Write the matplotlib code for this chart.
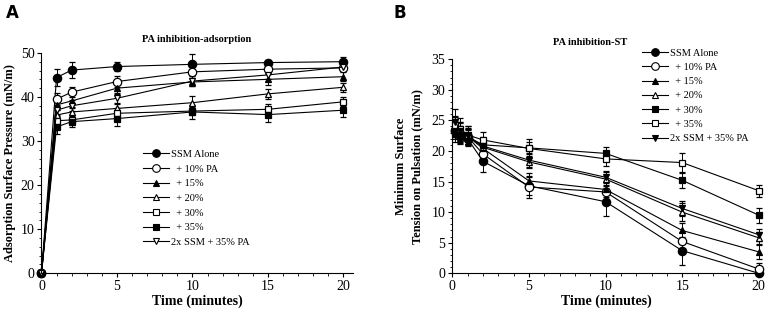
import numpy as np
import matplotlib.pyplot as plt
from matplotlib.lines import Line2D
from matplotlib.ticker import MultipleLocator

plt.rcParams['font.family'] = ['Liberation Serif', 'DejaVu Serif']

# Panel A: adsorption surface pressure
time_a = [0, 1, 2, 5, 10, 15, 20]
labels_a = ["SSM Alone", "  + 10% PA", "  + 15%", "  + 20%", "  + 30%", "  + 35%",
            "2x SSM + 35% PA"]
ssm_a = [0, 44.4, 46.1, 46.9, 47.4, 47.8, 48.0]
pa10_a = [0, 39.5, 41.1, 43.5, 45.7, 46.3, 46.6]
pa15_a = [0, 38.2, 39.1, 42.0, 43.4, 44.0, 44.6]
pa20_a = [0, 35.9, 36.6, 37.4, 38.7, 40.7, 42.2]
pa30_a = [0, 34.6, 34.8, 36.3, 36.8, 37.2, 38.9]
pa35_a = [0, 33.2, 34.4, 35.1, 36.6, 36.0, 37.0]
dbl_a = [0, 37.0, 38.0, 39.7, 43.6, 45.0, 46.8]
err_a = [
    [0, 2.0, 1.8, 1.0, 2.4, 0.6, 1.0],
    [0, 1.5, 1.2, 1.2, 1.5, 0.8, 0.8],
    [0, 1.2, 1.5, 1.0, 1.0, 1.2, 1.0],
    [0, 1.2, 1.2, 1.0, 1.5, 1.2, 1.0],
    [0, 1.0, 1.0, 1.2, 1.0, 1.2, 1.0],
    [0, 1.5, 1.2, 1.6, 1.5, 1.7, 1.5],
    [0, 1.2, 1.2, 1.0, 1.2, 1.0, 1.0],
]

# Panel B: minimum surface tension on pulsation
time_b = [0.2, 0.5, 1, 2, 5, 10, 15, 20]
labels_b = ["SSM Alone", "  + 10% PA", "  + 15%", "  + 20%", "  + 30%", "  + 35%",
            "2x SSM + 35% PA"]
ssm_b = [23.2, 22.5, 22.0, 18.3, 14.3, 11.7, 3.7, 0.0]
pa10_b = [23.5, 22.8, 22.3, 19.5, 14.1, 13.3, 5.2, 0.7]
pa15_b = [23.8, 23.0, 22.4, 20.4, 15.1, 13.7, 7.0, 3.5]
pa20_b = [24.0, 23.2, 22.5, 20.6, 18.2, 15.4, 10.0, 5.8]
pa30_b = [23.0, 22.6, 22.3, 21.0, 20.5, 19.6, 15.2, 9.5]
pa35_b = [24.2, 23.6, 22.6, 21.8, 20.4, 18.7, 18.1, 13.5]
dbl_b = [24.8, 23.3, 22.4, 20.8, 18.5, 15.7, 10.6, 6.3]
err_b = [
    [1.2, 1.2, 1.0, 1.8, 1.5, 2.3, 2.3, 0.3],
    [1.2, 1.2, 1.5, 1.5, 1.8, 1.2, 1.5, 1.0],
    [1.5, 1.5, 1.2, 1.2, 1.3, 1.2, 1.2, 1.2],
    [1.5, 1.5, 1.5, 1.2, 1.0, 1.2, 1.5, 1.0],
    [1.5, 1.5, 1.2, 1.2, 1.0, 1.0, 1.2, 1.2],
    [1.5, 1.8, 1.5, 1.3, 1.5, 1.2, 1.5, 1.0],
    [2.0, 1.5, 1.2, 1.2, 1.2, 1.0, 1.2, 1.0],
]

styles_a = [("o", "k"), ("o", "w"), ("^", "k"), ("^", "w"), ("s", "w"), ("s", "k"),
            ("v", "w")]
styles_b = [("o", "k"), ("o", "w"), ("^", "k"), ("^", "w"), ("s", "k"), ("s", "w"),
            ("v", "k")]
sizes = {"o": 6, "^": 5, "s": 5, "v": 5}

fig = plt.figure(figsize=(7.68, 3.14), dpi=100)
ax1 = fig.add_axes([0.054, 0.1296, 0.405, 0.702])
ax2 = fig.add_axes([0.589, 0.1296, 0.401, 0.682])


def draw(ax, t, series, errs, labels, styles):
    handles = []
    for y, e, lab, (m, fc) in zip(series, errs, labels, styles):
        ms = sizes[m]
        if m == "v" and fc == "w":
            ms = 4.5
        ax.errorbar(t, y, yerr=e, color="k", lw=0.8, elinewidth=0.7, capsize=2,
                    capthick=0.7, marker=m, ms=ms, mfc=fc, mec="k", mew=0.9,
                    clip_on=False)
        handles.append(Line2D([], [], color="k", lw=0.8, marker=m, ms=ms - 0.5,
                              mfc=fc, mec="k", mew=0.8, label=lab))
    for s in ["top", "right"]:
        ax.spines[s].set_visible(False)
    ax.tick_params(direction="out", length=3, width=0.8, labelsize=10, pad=2)
    ax.tick_params(which="minor", direction="out", length=1.8, width=0.6)
    ax.xaxis.set_major_locator(MultipleLocator(5))
    ax.xaxis.set_minor_locator(MultipleLocator(1))
    ax.set_xlabel("Time (minutes)", fontsize=10, fontweight="bold", labelpad=1)
    return handles


h1 = draw(ax1, time_a, [ssm_a, pa10_a, pa15_a, pa20_a, pa30_a, pa35_a, dbl_a], err_a,
          labels_a, styles_a)
ax1.set_xlim(0, 20.6)
ax1.set_ylim(0, 50)
ax1.yaxis.set_major_locator(MultipleLocator(10))
ax1.yaxis.set_minor_locator(MultipleLocator(2))
ax1.set_ylabel("Adsorption Surface Pressure (mN/m)", fontsize=9, fontweight="bold",
               labelpad=3)
ax1.set_title("PA inhibition-adsorption", fontsize=7.5, fontweight="bold", pad=8)
ax1.legend(handles=h1, loc="upper left", bbox_to_anchor=(0.31, 0.585), frameon=False,
           fontsize=7.5, handlelength=2.5, labelspacing=0.52, borderpad=0,
           handletextpad=0.2)

h2 = draw(ax2, time_b, [ssm_b, pa10_b, pa15_b, pa20_b, pa30_b, pa35_b, dbl_b], err_b,
          labels_b, styles_b)
ax2.set_xlim(0, 20.1)
ax2.set_ylim(0, 35)
ax2.yaxis.set_major_locator(MultipleLocator(5))
ax2.yaxis.set_minor_locator(MultipleLocator(1))
ax2.set_ylabel("Minimum Surface\nTension on Pulsation (mN/m)", fontsize=9,
               fontweight="bold", labelpad=6, linespacing=1.45)
ax2.set_title("PA inhibition-ST", fontsize=7.5, fontweight="bold", pad=10, x=0.447)
ax2.legend(handles=h2, loc="upper left", bbox_to_anchor=(0.599, 1.075), frameon=False,
           fontsize=7.5, handlelength=2.5, labelspacing=0.48, borderpad=0,
           handletextpad=0.2)

fig.text(0.008, 0.96, "A", fontsize=12, fontweight="bold", family="DejaVu Sans",
         va="center")
fig.text(0.512, 0.96, "B", fontsize=12, fontweight="bold", family="DejaVu Sans",
         va="center")

fig.savefig("out.png", dpi=100)
